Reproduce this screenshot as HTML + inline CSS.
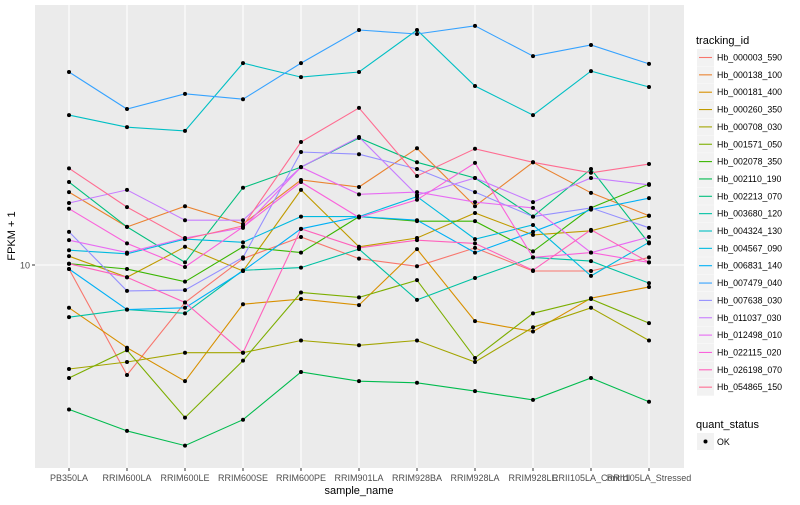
<!DOCTYPE html>
<html><head><meta charset="utf-8"><style>
body{margin:0;background:#fff;font-family:"Liberation Sans",sans-serif;}
svg text{font-family:"Liberation Sans",sans-serif;}
</style></head><body>
<svg id="chart" width="800" height="500" xmlns="http://www.w3.org/2000/svg">
<rect x="35" y="5" width="649" height="463" fill="#ebebeb"/>
<g id="grid"></g>
<g id="series"></g>
<g id="xlabels"></g>
<text x="30" y="268.5" text-anchor="end" font-size="9" fill="#4d4d4d">10</text>
<line x1="32" x2="35" y1="265" y2="265" stroke="#333" stroke-width="1"/>
<text x="359" y="494" text-anchor="middle" font-size="11" fill="#000">sample_name</text>
<text x="0" y="0" transform="translate(15,236) rotate(-90)" text-anchor="middle" font-size="11" fill="#000">FPKM + 1</text>
<g id="legend"></g>
</svg>
<script>
const categories=["PB350LA","RRIM600LA","RRIM600LE","RRIM600SE","RRIM600PE","RRIM901LA","RRIM928BA","RRIM928LA","RRIM928LE","RRII105LA_Control","RRII105LA_Stressed"];
const ids=["Hb_000003_590","Hb_000138_100","Hb_000181_400","Hb_000260_350","Hb_000708_030","Hb_001571_050","Hb_002078_350","Hb_002110_190","Hb_002213_070","Hb_003680_120","Hb_004324_130","Hb_004567_090","Hb_006831_140","Hb_007479_040","Hb_007638_030","Hb_011037_030","Hb_012498_010","Hb_022115_020","Hb_026198_070","Hb_054865_150"];
const colors=["#F8766D","#EA8331","#D89000","#C09B00","#A3A500","#7CAE00","#39B600","#00BB4E","#00BF7D","#00C1A3","#00BFC4","#00BAE0","#00B0F6","#35A2FF","#9590FF","#C77CFF","#E76BF3","#FA62DB","#FF62BC","#FF6C91"];
const s00=[9.7,4.3,7.5,10.5,12.4,10.5,9.9,11.4,9.55,9.55,10.6];
const s01=[17.5,13.4,15.7,13.7,19.2,18.2,24.5,15.7,22.0,17.4,14.6];
const s02=[7.2,5.3,4.1,7.4,7.7,7.35,11.3,6.5,6.0,7.75,8.45];
const s03=[10.7,9.1,11.5,9.55,17.8,11.5,12.3,14.9,12.6,13.0,14.6];
const s04=[4.5,4.75,5.1,5.1,5.6,5.4,5.6,4.75,6.2,7.2,5.6];
const s05=[4.2,5.2,3.1,4.8,8.1,7.8,8.9,4.9,6.9,7.7,6.4];
const s06=[10.1,9.7,8.8,11.5,11.0,14.5,14.0,14.0,11.1,15.5,18.6];
const s07=[3.3,2.8,2.5,3.05,4.4,4.1,4.05,3.8,3.55,4.2,3.5];
const s08=[18.9,13.4,10.2,18.1,21.2,26.5,22.0,19.5,14.5,20.9,11.8];
const s09=[6.7,7.1,6.9,9.6,9.8,11.3,7.65,9.05,10.6,10.3,8.7];
const s10=[31.6,28.8,28.0,47.1,42.3,44.0,60.7,39.5,31.6,44.3,39.2];
const s11=[11.2,10.9,12.2,11.9,14.5,14.5,16.9,12.2,13.6,9.2,11.9];
const s12=[9.7,7.1,7.2,9.55,13.2,14.5,14.1,11.0,12.9,15.3,16.7];
const s13=[44.0,33.1,37.2,35.7,47.1,60.7,58.9,62.7,49.7,54.1,46.8];
const s14=[12.9,8.2,8.25,10.6,23.8,23.4,20.9,17.5,14.5,15.5,13.3];
const s15=[16.1,17.8,14.1,14.1,21.2,26.7,17.1,19.5,16.2,19.5,18.5];
const s16=[12.1,11.0,12.3,13.3,21.2,17.2,17.5,16.2,15.5,11.0,12.4];
const s17=[15.4,11.8,9.85,13.4,18.9,14.4,16.5,21.9,10.6,11.0,10.2];
const s18=[10.1,9.1,7.5,5.1,13.2,11.4,12.1,11.8,9.6,13.1,10.2];
const s19=[21.0,15.6,12.2,13.5,25.7,33.4,19.8,24.4,22.0,20.3,21.7];
const seriesValues=[s00,s01,s02,s03,s04,s05,s06,s07,s08,s09,s10,s11,s12,s13,s14,s15,s16,s17,s18,s19];

const NS="http://www.w3.org/2000/svg";
const xScale=i=>69+i*58;
const yScale=v=>265-300*Math.log10(v/10);
function mk(tag,attrs,parent){const e=document.createElementNS(NS,tag);for(const k in attrs)e.setAttribute(k,attrs[k]);parent.appendChild(e);return e;}

const grid=document.getElementById('grid');
const hl=mk('line',{x1:35,x2:684,y1:yScale(10),y2:yScale(10),stroke:'#fff','stroke-width':1.1},grid);


const xl=document.getElementById('xlabels');
categories.forEach((c,i)=>{
  const g=mk('line',{x1:xScale(i),x2:xScale(i),y1:5,y2:468,stroke:'#fff','stroke-width':1.1},grid);
  
  
  const t=mk('line',{x1:xScale(i),x2:xScale(i),y1:468,y2:471,stroke:'#333'},xl);
  
  
  const l=mk('text',{x:xScale(i),y:481,'text-anchor':'middle','font-size':9,fill:'#4d4d4d'},xl);
  l.textContent=c;
  
  
});

const sg=document.getElementById('series');
seriesValues.forEach((vals,k)=>{
  const pts=vals.map((v,i)=>xScale(i)+','+yScale(v).toFixed(1)).join(' ');
  const pl=mk('polyline',{points:pts,fill:'none',stroke:colors[k],'stroke-width':1.1},sg);
  
  
});
seriesValues.forEach((vals,k)=>{
  vals.forEach((v,i)=>{
    const c=mk('circle',{cx:xScale(i),cy:yScale(v),r:2,fill:'#000'},sg);
    
    
  });
});

const lg=document.getElementById('legend');
const lt=mk('text',{x:696,y:44,'font-size':11,fill:'#000'},lg);
lt.textContent='tracking_id';


ids.forEach((id,k)=>{
  const y=49+k*17.35;
  const r=mk('rect',{x:697,y:y,width:17,height:17,fill:'#f2f2f2'},lg);
  
  
  const ln=mk('line',{x1:699,x2:712,y1:y+8.5,y2:y+8.5,stroke:colors[k],'stroke-width':1.1},lg);
  
  
  const t=mk('text',{x:717,y:y+11.5,'font-size':8.8,fill:'#000'},lg);
  t.textContent=id;
  
  
});
const qt=mk('text',{x:696,y:428,'font-size':11,fill:'#000'},lg);
qt.textContent='quant_status';


const qr=mk('rect',{x:697,y:433,width:17,height:17,fill:'#f2f2f2'},lg);


const qc=mk('circle',{cx:705.5,cy:441.5,r:2,fill:'#000'},lg);


const qo=mk('text',{x:717,y:445,'font-size':8.8,fill:'#000'},lg);
qo.textContent='OK';


</script>
</body></html>
